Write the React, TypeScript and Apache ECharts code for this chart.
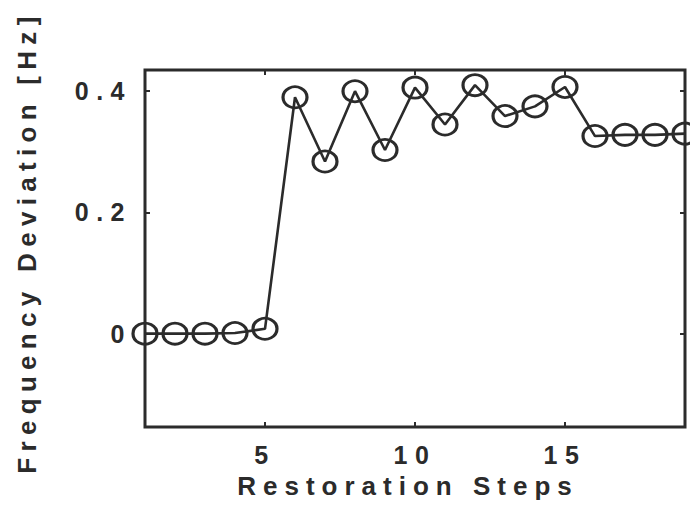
import React, { useEffect, useRef } from "react";
import * as echarts from "echarts";

const steps = [1, 2, 3, 4, 5, 6, 7, 8, 9, 10, 11, 12, 13, 14, 15, 16, 17, 18, 19];
const deviation = [0, 0, 0, 0.001, 0.008, 0.39, 0.284, 0.4, 0.303, 0.406, 0.345, 0.41, 0.359, 0.375, 0.407, 0.326, 0.328, 0.328, 0.33];
const xTicks = [5, 10, 15];
const yTicks = [0, 0.2, 0.4];
const xTitle = "Restoration Steps";
const yTitle = "Frequency Deviation [Hz]";

const INK = "#2b2b2b";
const FONT = '"Liberation Sans", Arial, sans-serif';

export default function App() {
  const ref = useRef<HTMLDivElement>(null);
  useEffect(() => {
    const el = ref.current!;
    const chart = echarts.init(el, null, { renderer: "svg" });
    const tickStyle = { inside: true, length: 5, lineStyle: { color: INK, width: 2 } };
    const labelStyle = { fontSize: 25, fontWeight: "bold", fontFamily: FONT, color: INK };
    const noLine = { show: false, onZero: false };
    const option: any = {
      animation: false,
      backgroundColor: "#ffffff",
      grid: { left: 145, right: 5, top: 70, bottom: 98, show: true, borderColor: INK, borderWidth: 3, backgroundColor: "transparent" },
      xAxis: [
        {
          type: "value", min: 1, max: 19, position: "bottom",
          axisLine: noLine,
          axisTick: { ...tickStyle, customValues: xTicks },
          axisLabel: { ...labelStyle, customValues: xTicks, margin: 15 },
          splitLine: { show: false },
        },
        {
          type: "value", position: "top", min: 1, max: 19,
          axisLine: noLine,
          axisTick: { ...tickStyle, customValues: xTicks },
          axisLabel: { show: false },
          splitLine: { show: false },
        },
      ],
      yAxis: [
        {
          type: "value", min: -0.154, max: 0.435, position: "left",
          axisLine: noLine,
          axisTick: { ...tickStyle, customValues: yTicks },
          axisLabel: { ...labelStyle, customValues: yTicks, margin: 13, formatter: (v: number) => String(Math.round(v * 10) / 10) },
          splitLine: { show: false },
        },
        {
          type: "value", position: "right", min: -0.154, max: 0.435,
          axisLine: noLine,
          axisTick: { ...tickStyle, customValues: yTicks },
          axisLabel: { show: false },
          splitLine: { show: false },
        },
      ],
      series: [
        {
          type: "line",
          xAxisIndex: 0,
          yAxisIndex: 0,
          data: steps.map((s, i) => [s, deviation[i]]),
          symbol: "circle",
          symbolSize: [24, 21],
          clip: false,
          itemStyle: { color: "rgba(0,0,0,0)", borderColor: INK, borderWidth: 3 },
          lineStyle: { color: INK, width: 2.6 },
        },
      ],
      graphic: [
        {
          type: "text", x: 408, y: 486,
          style: { text: xTitle, font: `bold 26px ${FONT}`, fill: INK, align: "center", verticalAlign: "middle", textAlign: "center", textVerticalAlign: "middle" },
        },
        {
          type: "text", x: 27, y: 242, rotation: Math.PI / 2,
          style: { text: yTitle, font: `bold 26px ${FONT}`, fill: INK, align: "center", verticalAlign: "middle", textAlign: "center", textVerticalAlign: "middle" },
        },
      ],
    };
    const spacing = () => {
      el.querySelectorAll("text").forEach((t) => {
        const s = t.textContent || "";
        t.setAttribute("letter-spacing", s === yTitle ? "6.3" : s === xTitle ? "7" : "7.5");
      });
    };
    chart.on("finished", spacing);
    chart.setOption(option);
    spacing();
    return () => {
      chart.dispose();
    };
  }, []);
  return <div ref={ref} style={{ position: "fixed", left: 0, top: 0, width: 690, height: 525, background: "#fff" }} />;
}
